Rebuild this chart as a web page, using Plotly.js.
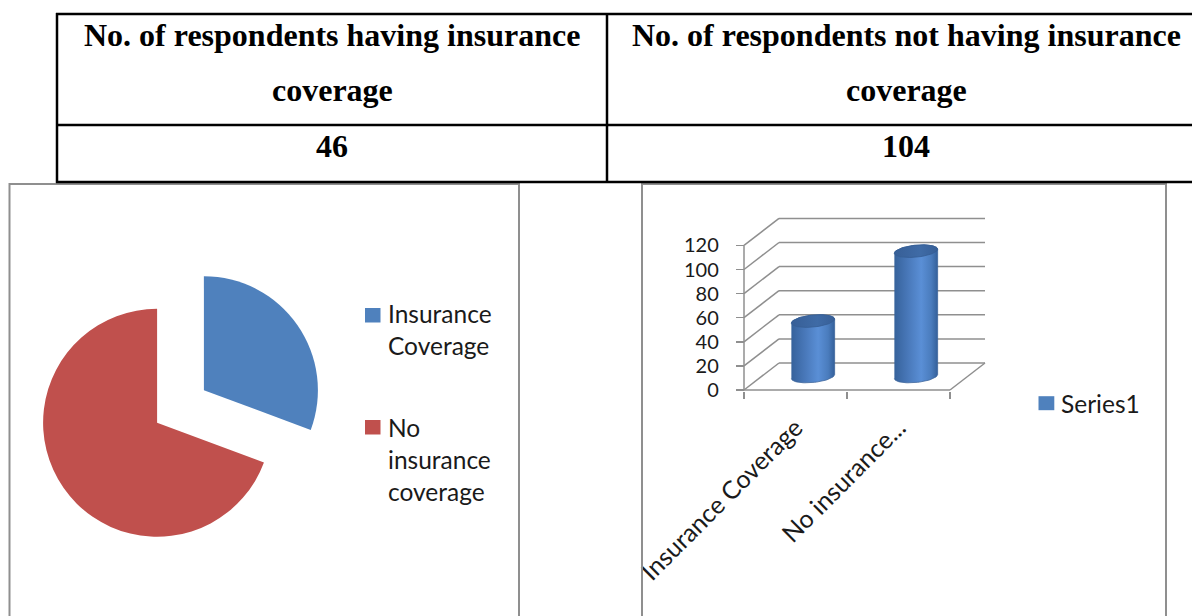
<!DOCTYPE html>
<html><head><meta charset="utf-8">
<script src="https://cdn.plot.ly/plotly-3.0.1.min.js"></script>
<style>html,body{margin:0;padding:0;background:#fff;} #chart{width:1192px;height:616px;}</style>
</head><body><div id="chart"></div>
<script>
// ---------------- data ----------------
const tableHeaders = ['No. of respondents having insurance coverage', 'No. of respondents not having insurance coverage'];
const tableValues = [46, 104];
const pieLabels = ['Insurance Coverage', 'No insurance coverage'];
const pieValues = [46, 104];
const pieLegendText = ['Insurance<br>Coverage', 'No<br>insurance<br>coverage'];
const barCategories = ['Insurance Coverage', 'No insurance...'];
const barValues = [46, 104];
const seriesName = 'Series1';
const yTickVals = [0, 20, 40, 60, 80, 100, 120];

// ---------------- layout helpers ----------------
const W = 1192, H = 616;
const px = x => x / W;
const py = y => 1 - y / H;
const BLUE = '#4F81BD', RED = '#C0504D';
const GRAY = '#8f8f8f';
const SANS = 'Lato, Open Sans, sans-serif';
const SERIF = 'Liberation Serif, Times New Roman, serif';

// 3D column frame geometry (pixels -> data units)
const X0PX = 744, PX_PER_X = 103;       // front-left corner, px per category
const Y0PX = 390, PX_PER_Y = 24.1 / 20; // floor front, px per value unit
const DEPTH_X = 35 / PX_PER_X;          // oblique depth offset in x units
const DEPTH_Y = 27 / PX_PER_Y;          // oblique depth offset in y units
const XR = [-0.08, 2.4], YR = [-1, 146];
const xDom = [px(X0PX + XR[0] * PX_PER_X), px(X0PX + XR[1] * PX_PER_X)];
const yDom = [py(Y0PX - YR[0] * PX_PER_Y), py(Y0PX - YR[1] * PX_PER_Y)];
const nCat = barCategories.length;

// frame lines (walls, floor, gridlines)
const fx = [], fy = [];
function seg(a, b, c, d) { fx.push(a, c, null); fy.push(b, d, null); }
yTickVals.forEach(v => {
  seg(DEPTH_X, v + DEPTH_Y, nCat + DEPTH_X, v + DEPTH_Y); // back wall
  seg(0, v, DEPTH_X, v + DEPTH_Y);                        // side wall
});
seg(0, 0, 0, yTickVals[yTickVals.length - 1]);
seg(0, 0, nCat, 0);
seg(nCat, 0, nCat + DEPTH_X, DEPTH_Y);

const traces = [];
traces.push({
  type: 'pie', labels: pieLabels, values: pieValues, sort: false,
  direction: 'clockwise', rotation: 0, pull: [0.25, 0.25],
  marker: { colors: [BLUE, RED], line: { width: 0 } },
  textinfo: 'none', showlegend: false, hoverinfo: 'label+value',
  domain: { x: [px(38), px(323)], y: [py(549), py(264)] }
});
traces.push({
  type: 'scatter', mode: 'lines', x: fx, y: fy, xaxis: 'x', yaxis: 'y',
  line: { color: GRAY, width: 1.5 }, hoverinfo: 'skip', showlegend: false
});

// cylinders
const RX = 0.21, RY = 6 / PX_PER_Y, SKEW = 2 / PX_PER_Y, N = 40;
barValues.forEach((v, i) => {
  const cx = i + 0.5 + DEPTH_X / 2;
  const base = DEPTH_Y / 2, top = v + DEPTH_Y / 2;
  const bx = [], by = [];
  for (let k = 0; k <= N; k++) { // bottom front half
    const t = Math.PI + Math.PI * k / N;
    bx.push(cx + RX * Math.cos(t)); by.push(base + RY * Math.sin(t) + SKEW * Math.cos(t));
  }
  for (let k = 0; k <= N; k++) { // top back half
    const t = Math.PI * k / N;
    bx.push(cx + RX * Math.cos(t)); by.push(top + RY * Math.sin(t) + SKEW * Math.cos(t));
  }
  traces.push({
    type: 'scatter', mode: 'lines', x: bx, y: by, fill: 'toself', xaxis: 'x', yaxis: 'y',
    line: { width: 0.8, color: '#3d669c' },
    fillgradient: { type: 'horizontal', colorscale: [[0, '#36629b'], [0.3, '#4877b8'], [0.62, '#5a8fd6'], [0.85, '#4a7cbd'], [1, '#34609a']] },
    name: barCategories[i], hoverinfo: 'skip', showlegend: false
  });
  const tx = [], ty = [];
  for (let k = 0; k <= 2 * N; k++) {
    const t = 2 * Math.PI * k / (2 * N);
    tx.push(cx + RX * Math.cos(t)); ty.push(top + RY * Math.sin(t) + SKEW * Math.cos(t));
  }
  traces.push({
    type: 'scatter', mode: 'lines', x: tx, y: ty, fill: 'toself', xaxis: 'x', yaxis: 'y',
    line: { width: 0.8, color: '#365e94' },
    fillgradient: { type: 'horizontal', colorscale: [[0, '#375f97'], [0.6, '#3f6ba6'], [1, '#375f97']] },
    hoverinfo: 'skip', showlegend: false
  });
});

// ---------------- shapes & annotations ----------------
const shapes = [];
const ann = [];
const blk = { color: '#000', width: 2.5 };
function hline(y, x0, x1, line) { shapes.push({ type: 'line', xref: 'paper', yref: 'paper', x0: px(x0), x1: px(x1), y0: py(y), y1: py(y), line }); }
function vline(x, y0, y1, line) { shapes.push({ type: 'line', xref: 'paper', yref: 'paper', x0: px(x), x1: px(x), y0: py(y0), y1: py(y1), line }); }
function rect(x0, y0, x1, y1, fill, line) { shapes.push({ type: 'rect', xref: 'paper', yref: 'paper', x0: px(x0), x1: px(x1), y0: py(y0), y1: py(y1), fillcolor: fill, line }); }

// chart boxes
rect(9.5, 184, 519, 640, 'rgba(0,0,0,0)', { color: GRAY, width: 2 });
rect(642, 184, 1166, 640, 'rgba(0,0,0,0)', { color: GRAY, width: 2 });
// table grid
hline(14, 56, 1200, blk); hline(125, 56, 1200, blk); hline(182, 56, 1200, blk);
vline(57, 13, 183, blk); vline(607, 13, 183, blk);

const colCenters = [332, 906];
tableHeaders.forEach((h, i) => {
  const w = h.split(' ');
  const lines = [w.slice(0, -1).join(' '), w[w.length - 1]];
  [35, 90].forEach((y, j) => ann.push({ xref: 'paper', yref: 'paper', x: px(colCenters[i]), y: py(y), xanchor: 'center', yanchor: 'middle', showarrow: false, text: '<b>' + lines[j] + '</b>', font: { family: SERIF, size: 32, color: '#000' } }));
  ann.push({ xref: 'paper', yref: 'paper', x: px(colCenters[i]), y: py(146), xanchor: 'center', yanchor: 'middle', showarrow: false, text: '<b>' + tableValues[i] + '</b>', font: { family: SERIF, size: 32, color: '#000' } });
});

// pie legend
const pieCols = [BLUE, RED];
const pieSq = [308, 420];
const pieTxt = [329, 459];
pieLegendText.forEach((t, i) => {
  rect(365, pieSq[i], 380.5, pieSq[i] + 14.5, pieCols[i], { width: 0 });
  ann.push({ xref: 'paper', yref: 'paper', x: px(386), y: py(pieTxt[i]), xanchor: 'left', yanchor: 'middle', align: 'left', showarrow: false, text: t, font: { family: SANS, size: 24.5, color: '#1a1a1a' } });
});
// bar legend
rect(1038.5, 396.2, 1054.3, 410.2, BLUE, { width: 0 });
ann.push({ xref: 'paper', yref: 'paper', x: px(1059), y: py(403), xanchor: 'left', yanchor: 'middle', showarrow: false, text: seriesName, font: { family: SANS, size: 24.5, color: '#1a1a1a' } });

const layout = {
  width: W, height: H, margin: { l: 0, r: 0, t: 0, b: 0 },
  paper_bgcolor: '#fff', plot_bgcolor: 'rgba(0,0,0,0)', showlegend: false,
  xaxis: {
    domain: xDom, range: XR, tickmode: 'array', tickvals: barCategories.map((c, i) => i + 0.5), ticktext: barCategories,
    ticks: '', tickangle: -45, ticklabelstandoff: 16, tickfont: { family: SANS, size: 25, color: '#1a1a1a' },
    minor: { tickmode: 'array', tickvals: barCategories.map((c, i) => i).concat([nCat]), ticks: 'outside', ticklen: 7, tickwidth: 1.5, tickcolor: GRAY },
    showgrid: false, zeroline: false, showline: false, fixedrange: true
  },
  yaxis: {
    domain: yDom, range: YR, tickmode: 'array', tickvals: yTickVals,
    ticks: 'inside', ticklen: 8, tickwidth: 1.5, tickcolor: GRAY, ticklabelstandoff: 16,
    tickfont: { family: SANS, size: 20, color: '#1a1a1a' },
    showgrid: false, zeroline: false, showline: false, fixedrange: true
  },
  shapes, annotations: ann
};
Plotly.newPlot('chart', traces, layout, { displayModeBar: false, staticPlot: true });
</script></body></html>
